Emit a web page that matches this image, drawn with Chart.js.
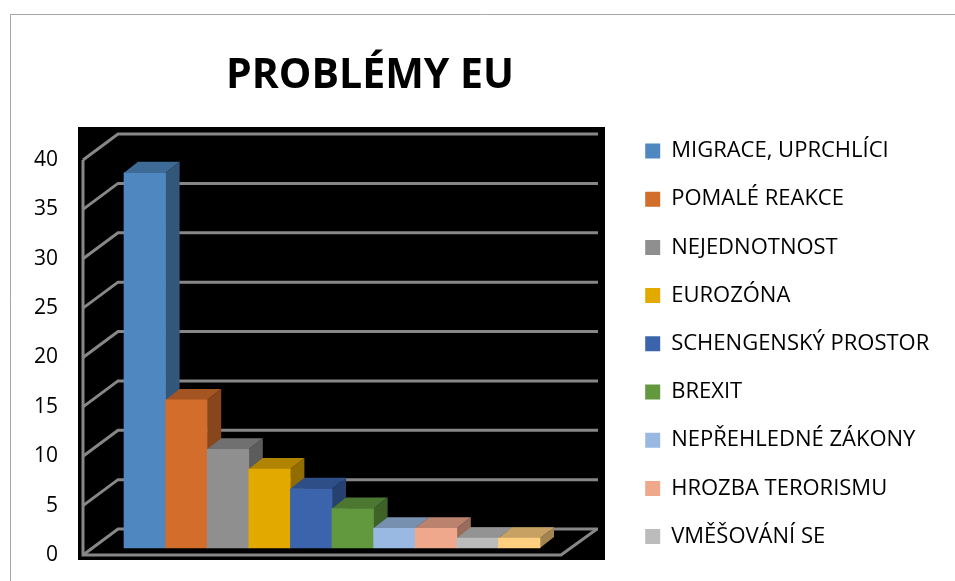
<!DOCTYPE html>
<html lang="cs">
<head>
<meta charset="utf-8">
<title>Problémy EU</title>
<script src="https://cdn.jsdelivr.net/npm/chart.js@4.4.1/dist/chart.umd.min.js"></script>
<style>
	html, body { margin: 0; padding: 0; background: #fff; overflow: hidden; }
	.box { position: absolute; left: 0; top: 0; width: 955px; height: 581px; }
</style>
</head>
<body>
<div class="box"><canvas id="chartjs-eu-problems"></canvas></div>
<script>

const categories = ["MIGRACE, UPRCHLÍCI", "POMALÉ REAKCE", "NEJEDNOTNOST", "EUROZÓNA", "SCHENGENSKÝ PROSTOR", "BREXIT", "NEPŘEHLEDNÉ ZÁKONY", "HROZBA TERORISMU", "VMĚŠOVÁNÍ SE", "OSTATNÍ"];
const values = [38, 15, 10, 8, 6, 4, 2, 2, 1, 1];
const yTicks = [0, 5, 10, 15, 20, 25, 30, 35, 40];
const barColors = ['#4f88c0', '#d36d2b', '#8f8f8f', '#e2a900', '#3b64ad', '#62993e', '#99b9e2', '#f0a88d', '#bcbcbc', '#fecf7f'];

const FONT = "'Open Sans', 'Noto Sans', sans-serif";

// darken a #rrggbb colour
function shade(hex, f) {
	const n = parseInt(hex.slice(1), 16);
	const r = Math.round(((n >> 16) & 255) * f);
	const g = Math.round(((n >> 8) & 255) * f);
	const b = Math.round((n & 255) * f);
	return `rgb(${r},${g},${b})`;
}

// excel-ish 3D look: black plot, walls, floor, bar tops and sides
const threeD = {
	id: 'threeD',
	afterLayout(chart) {
		// title centred over the plot, legend beside it
		chart.titleBlock.left = 0;
		chart.titleBlock.right = 740;
		const lg = chart.legend;
		lg.left = 619; lg.right = 955; lg.top = 113.8; lg.bottom = 581;
		lg.width = lg.right - lg.left; lg.height = lg.bottom - lg.top;
	},
	beforeDraw(chart) {
		const ctx = chart.ctx;
		const a = chart.chartArea;
		const y = chart.scales.y;
		const fx = a.left - 41, bx = fx + 35, dy = 26;
		ctx.save();
		// outer frame (only left and top edge are in view)
		ctx.strokeStyle = '#a6a6a6';
		ctx.lineWidth = 1;
		ctx.beginPath();
		ctx.moveTo(10.5, chart.height);
		ctx.lineTo(10.5, 14.5);
		ctx.lineTo(chart.width, 14.5);
		ctx.stroke();

		ctx.fillStyle = '#000';
		ctx.fillRect(a.left - 46, a.top - 33, a.right - a.left + 111, a.bottom - a.top + 38);
		ctx.strokeStyle = '#878787';
		ctx.lineWidth = 3;
		yTicks.forEach(v => {
			const yf = y.getPixelForValue(v);
			ctx.beginPath();
			ctx.moveTo(fx, yf);
			ctx.lineTo(bx, yf - dy);
			ctx.lineTo(a.right + 58, yf - dy);
			ctx.stroke();
		});
		// front edge of left wall + floor
		ctx.beginPath();
		ctx.moveTo(fx, y.getPixelForValue(40));
		ctx.lineTo(fx, a.bottom);
		ctx.lineTo(a.right + 21, a.bottom);
		ctx.lineTo(a.right + 57, a.bottom - dy);
		ctx.stroke();
		ctx.restore();
	},
	beforeDatasetsDraw(chart) {
		const ctx = chart.ctx;
		const bars = chart.getDatasetMeta(0).data;
		const lift = 7, dx = 14, dy = 11;
		ctx.save();
		bars.forEach((bar, i) => {
			const x1 = bar.x - bar.width / 2, x2 = bar.x + bar.width / 2;
			const yt = bar.y - lift, yb = bar.base - lift;
			ctx.fillStyle = shade(barColors[i], 0.64);
			ctx.beginPath();
			ctx.moveTo(x2, yt); ctx.lineTo(x2 + dx, yt - dy);
			ctx.lineTo(x2 + dx, yb - dy); ctx.lineTo(x2, yb);
			ctx.closePath(); ctx.fill();
			ctx.fillStyle = shade(barColors[i], 0.78);
			ctx.beginPath();
			ctx.moveTo(x1, yt); ctx.lineTo(x1 + dx, yt - dy);
			ctx.lineTo(x2 + dx, yt - dy); ctx.lineTo(x2, yt);
			ctx.closePath(); ctx.fill();
		});
		ctx.restore();
		ctx.save();
		ctx.translate(0, -lift);
	},
	afterDatasetsDraw(chart) {
		chart.ctx.restore();
	}
};

document.addEventListener("DOMContentLoaded", function() {

	new Chart(document.getElementById("chartjs-eu-problems"), {
		type: 'bar',
		data: {
			labels: categories,
			datasets: [{
				data: values,
				backgroundColor: barColors,
				borderWidth: 0,
				barPercentage: 1,
				categoryPercentage: 1,
				clip: false
			}]
		},
		options: {
			responsive: true,
			maintainAspectRatio: false,
			animation: false,
			layout: { padding: 0 },
			plugins: {
				title: {
					display: true,
					text: 'PROBLÉMY EU',
					color: '#000',
					font: { family: FONT, size: 41, weight: 'bold', lineHeight: 1.2 },
					padding: { top: 52, bottom: 58.8 }
				},
				legend: {
					position: 'chartArea',
					align: 'start',
					labels: {
						color: '#000',
						font: { family: FONT, size: 22 },
						boxWidth: 15,
						boxHeight: 15,
						padding: 26.2,
						generateLabels: () => categories.map((c, i) => ({
							text: c, fillStyle: barColors[i], strokeStyle: barColors[i],
							lineWidth: 0, hidden: false, index: i
						})),
						// tenth entry is cut off in the original
						filter: item => item.index < 9
					}
				},
				tooltip: { enabled: false }
			},
			scales: {
				x: {
					grid: { display: false, drawTicks: false },
					border: { display: false },
					ticks: { display: false },
					afterFit: s => { s.height = 26; }
				},
				y: {
					min: 0,
					max: 40,
					grid: { display: false, drawTicks: false },
					border: { display: false },
					afterBuildTicks: s => { s.ticks = yTicks.map(v => ({ value: v })); },
					ticks: { color: '#000', padding: 66, font: { family: FONT, size: 21 } },
					afterFit: s => {
						s.width = 124;
						// the big tick padding should not squeeze the plot vertically
						s.paddingTop = 12;
						s.paddingBottom = 12;
					}
				},
				y2: {
					position: 'right',
					grid: { display: false, drawTicks: false },
					border: { display: false },
					ticks: { display: false },
					afterFit: s => { s.width = 415; }
				}
			}
		},
		plugins: [threeD]
	});
});
</script>
</body>
</html>
